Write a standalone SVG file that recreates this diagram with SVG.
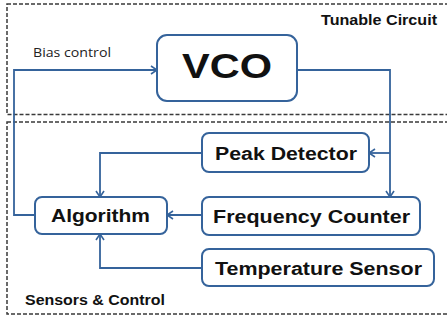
<svg xmlns="http://www.w3.org/2000/svg" width="447" height="322" viewBox="0 0 447 322">
  <defs>
    <marker id="arr" viewBox="0 0 8 10" refX="7" refY="5" markerWidth="8" markerHeight="10" markerUnits="userSpaceOnUse" orient="auto">
      <path d="M1,1 L7,5 L1,9" fill="none" stroke="#35639b" stroke-width="1.6"/>
    </marker>
  </defs>
  <style>
    .region { fill: none; stroke: #3a3a3a; stroke-width: 1.5; stroke-dasharray: 4 2; }
    .box { fill: #fff; stroke: #35639b; stroke-width: 2; }
    .conn { fill: none; stroke: #35639b; stroke-width: 1.8; }
    .lbl { font-family: "Liberation Sans", Arial, sans-serif; font-weight: bold; fill: #111; text-anchor: middle; }
    .small { font-family: "Open Sans", "Liberation Sans", sans-serif; fill: #222; font-size: 12px; }
    .tag { font-family: "Liberation Sans", Arial, sans-serif; fill: #111; font-size: 14px; font-weight: bold; }
  </style>
  <rect width="447" height="322" fill="#fff"/>
  <g id="regions">
    <rect class="region" x="7" y="4" width="460" height="110.5"/>
    <rect class="region" x="7" y="122" width="460" height="192"/>
    <text class="tag" x="321" y="25" textLength="116" lengthAdjust="spacingAndGlyphs">Tunable Circuit</text>
    <text class="tag" x="25" y="305" textLength="140" lengthAdjust="spacingAndGlyphs">Sensors &amp; Control</text>
  </g>
  <g id="connectors">
    <path class="conn" d="M35,215 H14 V70 H157" marker-end="url(#arr)"/>
    <text class="small" x="33" y="57" textLength="78" lengthAdjust="spacingAndGlyphs">Bias control</text>
    <path class="conn" d="M297,70 H390 V197" marker-end="url(#arr)"/>
    <path class="conn" d="M390,153 H369" marker-end="url(#arr)"/>
    <path class="conn" d="M202,153 H100 V197" marker-end="url(#arr)"/>
    <path class="conn" d="M202,215 H167" marker-end="url(#arr)"/>
    <path class="conn" d="M202,268 H100 V234" marker-end="url(#arr)"/>
  </g>
  <g id="vco">
    <rect class="box" x="157" y="35" width="140" height="66" rx="10"/>
    <text class="lbl" x="227" y="78" font-size="35" textLength="90" lengthAdjust="spacingAndGlyphs">VCO</text>
  </g>
  <g id="peak-detector">
    <rect class="box" x="202" y="133" width="167" height="39" rx="7"/>
    <text class="lbl" x="286" y="159.5" font-size="18" textLength="142" lengthAdjust="spacingAndGlyphs">Peak Detector</text>
  </g>
  <g id="algorithm">
    <rect class="box" x="35" y="197" width="132" height="37" rx="7"/>
    <text class="lbl" x="100.5" y="222" font-size="18" textLength="99" lengthAdjust="spacingAndGlyphs">Algorithm</text>
  </g>
  <g id="frequency-counter">
    <rect class="box" x="202" y="197" width="218" height="38" rx="7"/>
    <text class="lbl" x="311.5" y="223" font-size="18" textLength="197" lengthAdjust="spacingAndGlyphs">Frequency Counter</text>
  </g>
  <g id="temperature-sensor">
    <rect class="box" x="202" y="249" width="232" height="37" rx="7"/>
    <text class="lbl" x="318.5" y="275" font-size="18" textLength="207" lengthAdjust="spacingAndGlyphs">Temperature Sensor</text>
  </g>
</svg>
